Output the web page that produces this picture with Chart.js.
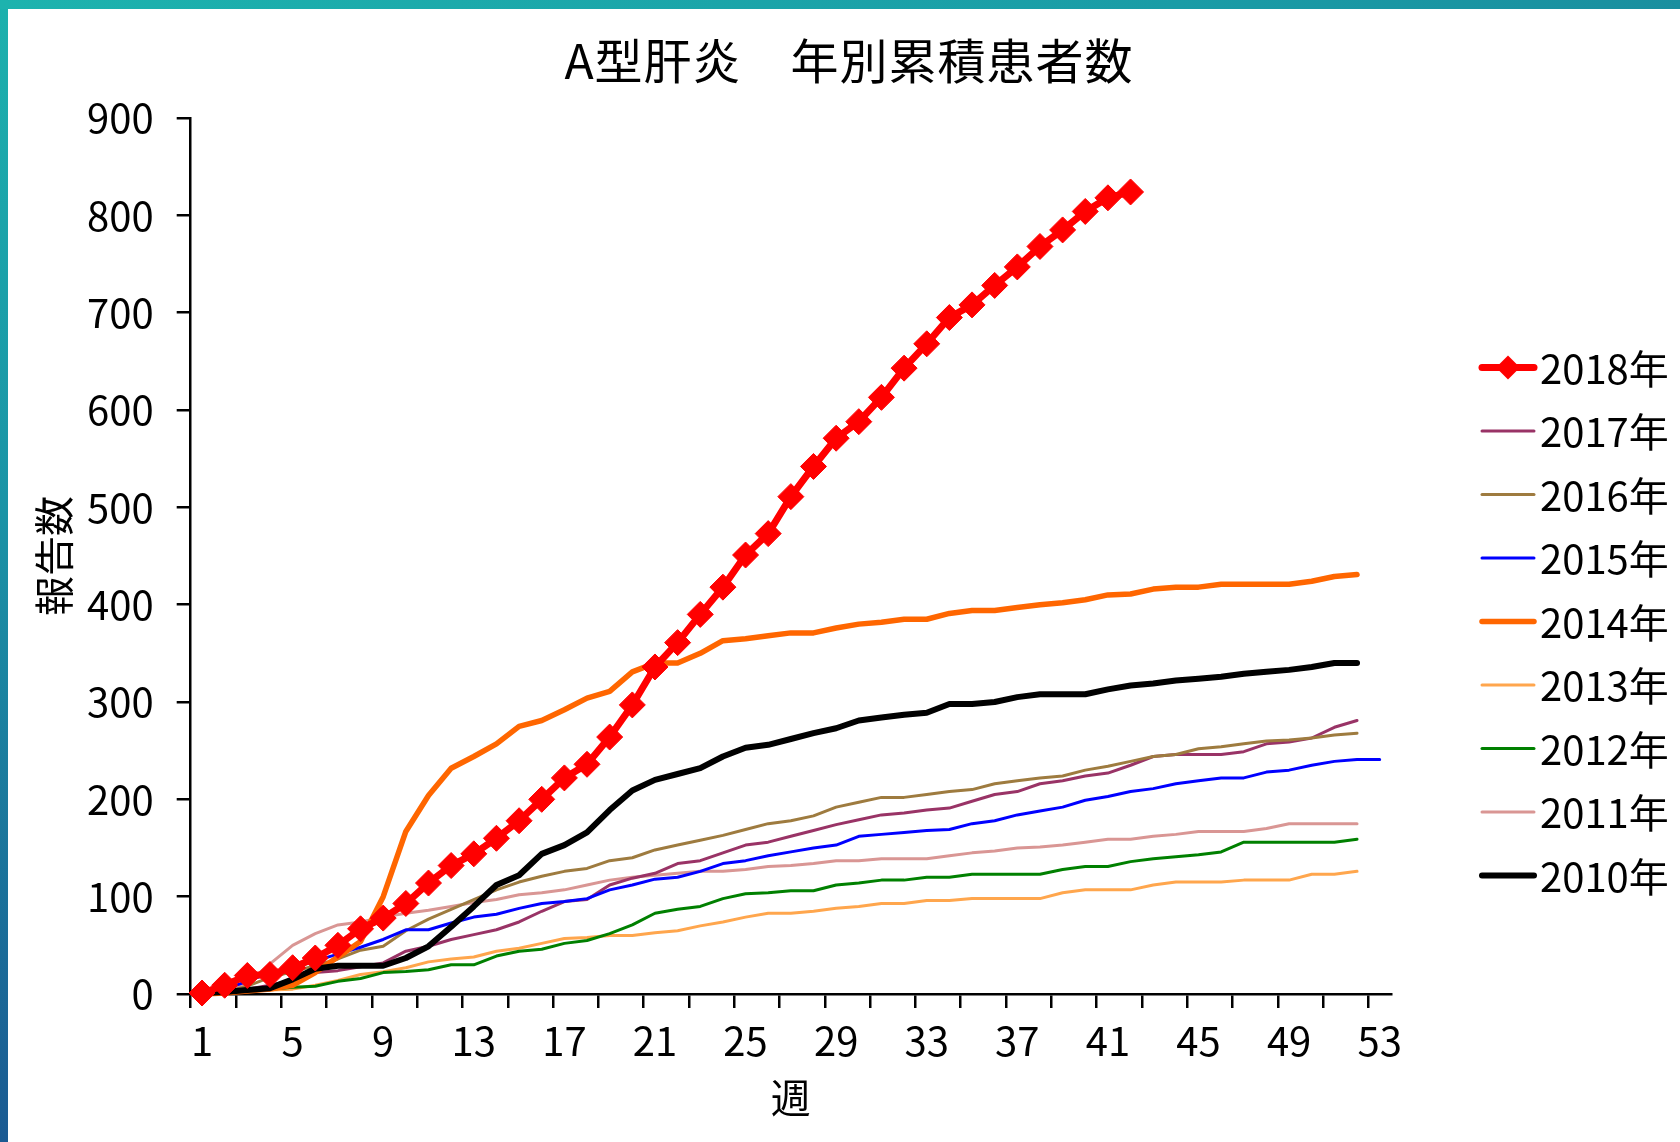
<!DOCTYPE html>
<html lang="ja">
<head>
<meta charset="utf-8">
<title>A型肝炎 年別累積患者数</title>
<script src="https://cdn.jsdelivr.net/npm/chart.js@4.4.1/dist/chart.umd.min.js"></script>
<style>
  html, body { margin: 0; padding: 0; }
  body {
    width: 1680px; height: 1142px; position: relative; overflow: hidden;
    background: linear-gradient(to bottom, #1cb1ad 0%, #1a93a6 45%, #1b5a92 100%);
  }
  #topband { position: absolute; left: 0; top: 0; width: 1680px; height: 9px;
    background: linear-gradient(to right, #1db3ae, #1a9ca6 70%, #1a8f9f); }
  #panel { position: absolute; left: 8px; top: 9px; right: 0; bottom: 0; background: #fff; }
  #chart { position: absolute; left: 0; top: 0; }
</style>
</head>
<body>
<div id="topband"></div>
<div id="panel"></div>
<canvas id="chart" width="1680" height="1142"></canvas>
<script>
const FONT = "'Noto Sans CJK JP', 'Noto Sans', sans-serif";
const titleText = 'A型肝炎　年別累積患者数';

// 週（1〜53）
const weeks = [1, 2, 3, 4, 5, 6, 7, 8, 9, 10, 11, 12, 13, 14, 15, 16, 17, 18, 19, 20,
  21, 22, 23, 24, 25, 26, 27, 28, 29, 30, 31, 32, 33, 34, 35, 36, 37, 38, 39, 40,
  41, 42, 43, 44, 45, 46, 47, 48, 49, 50, 51, 52, 53];

const yTicks = [0, 100, 200, 300, 400, 500, 600, 700, 800, 900];

// 年別累積報告数
const y2018 = [1, 9, 19, 20, 27, 37, 50, 67, 78, 93, 114, 132, 144, 160, 178, 200, 222, 236, 264, 297,
  336, 361, 390, 418, 451, 473, 511, 542, 571, 588, 613, 643, 668, 695, 708, 728, 747, 768, 785, 804,
  818, 824];
const y2017 = [0, 3, 5, 9, 14, 22, 24, 28, 32, 44, 49, 56, 61, 66, 74, 85, 95, 97, 112, 119,
  124, 134, 137, 145, 153, 156, 162, 168, 174, 179, 184, 186, 189, 191, 198, 205, 208, 216, 219, 224,
  227, 235, 244, 246, 246, 246, 249, 257, 259, 263, 274, 281];
const y2016 = [0, 2, 8, 17, 23, 29, 36, 45, 49, 65, 77, 87, 97, 107, 115, 121, 126, 129, 137, 140,
  148, 153, 158, 163, 169, 175, 178, 183, 192, 197, 202, 202, 205, 208, 210, 216, 219, 222, 224, 230,
  234, 239, 244, 246, 252, 254, 257, 260, 261, 263, 266, 268];
const y2015 = [0, 5, 13, 22, 27, 34, 41, 48, 56, 66, 66, 73, 79, 82, 88, 93, 95, 98, 107, 112,
  118, 120, 126, 134, 137, 142, 146, 150, 153, 162, 164, 166, 168, 169, 175, 178, 184, 188, 192, 199,
  203, 208, 211, 216, 219, 222, 222, 228, 230, 235, 239, 241, 241];
const y2014 = [0, 1, 3, 5, 9, 22, 38, 54, 100, 167, 204, 232, 244, 257, 275, 281, 292, 304, 311, 331,
  340, 340, 350, 363, 365, 368, 371, 371, 376, 380, 382, 385, 385, 391, 394, 394, 397, 400, 402, 405,
  410, 411, 416, 418, 418, 421, 421, 421, 421, 424, 429, 431];
const y2013 = [0, 1, 3, 4, 5, 9, 14, 20, 23, 27, 33, 36, 38, 44, 47, 52, 57, 58, 60, 60,
  63, 65, 70, 74, 79, 83, 83, 85, 88, 90, 93, 93, 96, 96, 98, 98, 98, 98, 104, 107,
  107, 107, 112, 115, 115, 115, 117, 117, 117, 123, 123, 126];
const y2012 = [0, 1, 3, 5, 7, 8, 13, 16, 22, 23, 25, 30, 30, 39, 44, 46, 52, 55, 62, 71,
  83, 87, 90, 98, 103, 104, 106, 106, 112, 114, 117, 117, 120, 120, 123, 123, 123, 123, 128, 131,
  131, 136, 139, 141, 143, 146, 156, 156, 156, 156, 156, 159];
const y2011 = [0, 4, 11, 31, 50, 62, 71, 74, 79, 83, 86, 90, 94, 97, 102, 104, 107, 112, 117, 120,
  122, 124, 126, 126, 128, 131, 132, 134, 137, 137, 139, 139, 139, 142, 145, 147, 150, 151, 153, 156,
  159, 159, 162, 164, 167, 167, 167, 170, 175, 175, 175, 175];
const y2010 = [1, 2, 4, 6, 15, 26, 29, 29, 29, 37, 49, 69, 90, 112, 122, 144, 153, 166, 189, 209,
  220, 226, 232, 244, 253, 256, 262, 268, 273, 281, 284, 287, 289, 298, 298, 300, 305, 308, 308, 308,
  313, 317, 319, 322, 324, 326, 329, 331, 333, 336, 340, 340];

function lineSet(label, data, color, width, order) {
  return {
    label: label, data: data,
    borderColor: color, backgroundColor: color,
    borderWidth: width, pointRadius: 0, pointHoverRadius: 0,
    borderJoinStyle: 'round', borderCapStyle: 'round',
    tension: 0, fill: false, order: order, clip: false
  };
}

const datasets = [
  Object.assign(lineSet('2018年', y2018, '#FF0000', 7, 0), {
    pointStyle: 'rectRot', pointRadius: 13, pointBorderWidth: 1,
    pointBackgroundColor: '#FF0000', pointBorderColor: '#FF0000'
  }),
  lineSet('2017年', y2017, '#993366', 3, 5),
  lineSet('2016年', y2016, '#9E7B3F', 3, 4),
  lineSet('2015年', y2015, '#0000FF', 3, 3),
  lineSet('2014年', y2014, '#FF6600', 5.5, 2),
  lineSet('2013年', y2013, '#FFA64D', 3, 8),
  lineSet('2012年', y2012, '#008000', 3, 7),
  lineSet('2011年', y2011, '#D99694', 3, 6),
  lineSet('2010年', y2010, '#000000', 6, 1)
];

// タイトル（キャンバス中央）
const pageTitle = {
  id: 'pageTitle',
  afterDraw(chart) {
    const ctx = chart.ctx;
    ctx.save();
    ctx.font = '48px ' + FONT;
    ctx.fillStyle = '#000';
    ctx.textAlign = 'center';
    ctx.textBaseline = 'middle';
    if ('letterSpacing' in ctx) ctx.letterSpacing = '1px';
    ctx.fillText(titleText, 849, 61);
    ctx.restore();
  }
};

// 右側の凡例
const sideLegend = {
  id: 'sideLegend',
  afterDraw(chart) {
    const ctx = chart.ctx;
    const x0 = chart.chartArea.right + 91;
    ctx.save();
    ctx.font = '40px ' + FONT;
    ctx.textBaseline = 'middle';
    chart.data.datasets.forEach(function (ds, i) {
      const y = 367.5 + i * 63.5;
      ctx.strokeStyle = ds.borderColor;
      ctx.lineWidth = ds.borderWidth;
      ctx.lineCap = 'round';
      ctx.beginPath();
      ctx.moveTo(x0, y);
      ctx.lineTo(x0 + 52, y);
      ctx.stroke();
      if (ds.pointRadius) {
        const r = ds.pointRadius - 1;
        const cx = x0 + 26;
        ctx.fillStyle = ds.pointBackgroundColor;
        ctx.beginPath();
        ctx.moveTo(cx - r, y);
        ctx.lineTo(cx, y - r);
        ctx.lineTo(cx + r, y);
        ctx.lineTo(cx, y + r);
        ctx.closePath();
        ctx.fill();
      }
      ctx.fillStyle = '#000';
      ctx.fillText(ds.label, x0 + 58, y + 1);
    });
    ctx.restore();
  }
};

Chart.defaults.color = '#000';
Chart.defaults.font.family = FONT;

new Chart(document.getElementById('chart').getContext('2d'), {
  type: 'line',
  data: { labels: weeks, datasets: datasets },
  options: {
    responsive: false,
    animation: false,
    devicePixelRatio: 1,
    layout: { padding: { top: 118, right: 289, left: 0, bottom: 0 } },
    plugins: {
      legend: { display: false },
      title: { display: false },
      tooltip: { enabled: false }
    },
    scales: {
      x: {
        type: 'category',
        offset: true,
        afterFit: function (scale) { scale.height = 148; },
        grid: {
          offset: true, drawOnChartArea: false, drawTicks: true, tickLength: 14, lineWidth: 2.5,
          color: function (c) { return c.index % 2 === 0 ? '#000' : 'rgba(0,0,0,0)'; }
        },
        border: { display: true, color: '#000', width: 2.5 },
        ticks: {
          autoSkip: false, maxRotation: 0, minRotation: 0, padding: 9,
          font: { family: FONT, size: 40 },
          callback: function (v, i) { return i % 4 === 0 ? String(weeks[i]) : ''; }
        },
        title: {
          display: true, text: '週',
          font: { family: FONT, size: 40 },
          padding: { top: 0, bottom: 20 }
        }
      },
      y: {
        min: yTicks[0], max: yTicks[yTicks.length - 1],
        afterFit: function (scale) { scale.width = 190.7; },
        afterBuildTicks: function (scale) { scale.ticks = yTicks.map(function (v) { return { value: v }; }); },
        grid: { drawOnChartArea: false, drawTicks: true, tickLength: 14, color: '#000', lineWidth: 2.5 },
        border: { display: true, color: '#000', width: 2.5 },
        ticks: { padding: 23, font: { family: FONT, size: 40 } },
        title: {
          display: true, text: '報告数',
          font: { family: FONT, size: 40 },
          padding: { top: 30, bottom: 0 }
        }
      }
    }
  },
  plugins: [pageTitle, sideLegend]
});
</script>
</body>
</html>
